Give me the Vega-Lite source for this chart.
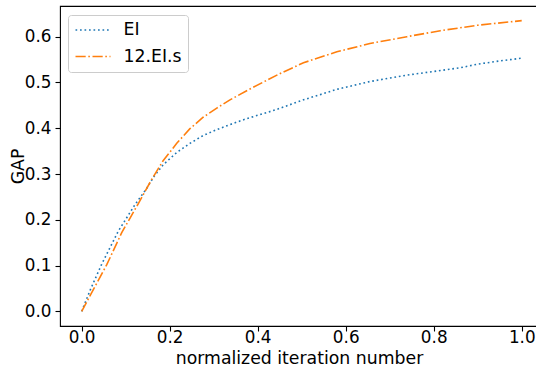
{
  "$schema": "https://vega.github.io/schema/vega-lite/v6.json",
  "width": 478,
  "height": 320,
  "autosize": {"type": "none"},
  "padding": {"left": 60, "top": 6, "right": -2, "bottom": 40},
  "config": {
    "view": {"stroke": "black", "strokeWidth": 1.1},
    "font": "DejaVu Sans",
    "axis": {
      "grid": false,
      "domain": false,
      "tickColor": "black",
      "tickWidth": 1.1,
      "tickSize": 5,
      "labelFontSize": 16.8,
      "titleFontSize": 17.3,
      "labelColor": "black",
      "titleColor": "black",
      "labelFont": "DejaVu Sans",
      "titleFont": "DejaVu Sans",
      "titleFontWeight": "normal"
    },
    "legend": {
      "orient": "none",
      "legendX": 8,
      "legendY": 9,
      "symbolType": "stroke",
      "symbolSize": 1225,
      "symbolStrokeWidth": 1.6,
      "clipHeight": 17,
      "labelFontSize": 17.3,
      "labelFont": "DejaVu Sans",
      "labelColor": "black",
      "labelOffset": 12,
      "padding": 6.5,
      "rowPadding": 8.5,
      "fillColor": "rgba(255,255,255,0.8)",
      "strokeColor": "#cccccc",
      "cornerRadius": 3,
      "zindex": 2
    }
  },
  "data": {
    "values": [
      {"method": "EI", "x": 0.0, "gap": 0.0},
      {"method": "EI", "x": 0.02, "gap": 0.048},
      {"method": "EI", "x": 0.045, "gap": 0.102},
      {"method": "EI", "x": 0.083, "gap": 0.175},
      {"method": "EI", "x": 0.121, "gap": 0.233},
      {"method": "EI", "x": 0.148, "gap": 0.269},
      {"method": "EI", "x": 0.163, "gap": 0.293},
      {"method": "EI", "x": 0.185, "gap": 0.32},
      {"method": "EI", "x": 0.216, "gap": 0.347},
      {"method": "EI", "x": 0.246, "gap": 0.367},
      {"method": "EI", "x": 0.276, "gap": 0.384},
      {"method": "EI", "x": 0.307, "gap": 0.397},
      {"method": "EI", "x": 0.337, "gap": 0.408},
      {"method": "EI", "x": 0.375, "gap": 0.421},
      {"method": "EI", "x": 0.413, "gap": 0.432},
      {"method": "EI", "x": 0.443, "gap": 0.441},
      {"method": "EI", "x": 0.504, "gap": 0.462},
      {"method": "EI", "x": 0.58, "gap": 0.485},
      {"method": "EI", "x": 0.655, "gap": 0.502},
      {"method": "EI", "x": 0.739, "gap": 0.516},
      {"method": "EI", "x": 0.815, "gap": 0.526},
      {"method": "EI", "x": 0.86, "gap": 0.532},
      {"method": "EI", "x": 0.9, "gap": 0.54},
      {"method": "EI", "x": 0.95, "gap": 0.547},
      {"method": "EI", "x": 1.0, "gap": 0.553},
      {"method": "12.EI.s", "x": 0.0, "gap": 0.0},
      {"method": "12.EI.s", "x": 0.02, "gap": 0.036},
      {"method": "12.EI.s", "x": 0.057, "gap": 0.102},
      {"method": "12.EI.s", "x": 0.091, "gap": 0.172},
      {"method": "12.EI.s", "x": 0.129, "gap": 0.236},
      {"method": "12.EI.s", "x": 0.159, "gap": 0.288},
      {"method": "12.EI.s", "x": 0.185, "gap": 0.329},
      {"method": "12.EI.s", "x": 0.216, "gap": 0.367},
      {"method": "12.EI.s", "x": 0.246, "gap": 0.399},
      {"method": "12.EI.s", "x": 0.276, "gap": 0.424},
      {"method": "12.EI.s", "x": 0.307, "gap": 0.444},
      {"method": "12.EI.s", "x": 0.337, "gap": 0.462},
      {"method": "12.EI.s", "x": 0.375, "gap": 0.482},
      {"method": "12.EI.s", "x": 0.413, "gap": 0.501},
      {"method": "12.EI.s", "x": 0.45, "gap": 0.519},
      {"method": "12.EI.s", "x": 0.504, "gap": 0.543},
      {"method": "12.EI.s", "x": 0.58, "gap": 0.567},
      {"method": "12.EI.s", "x": 0.655, "gap": 0.585},
      {"method": "12.EI.s", "x": 0.739, "gap": 0.6},
      {"method": "12.EI.s", "x": 0.815, "gap": 0.613},
      {"method": "12.EI.s", "x": 0.9, "gap": 0.625},
      {"method": "12.EI.s", "x": 1.0, "gap": 0.635}
    ]
  },
  "mark": {"type": "line", "strokeWidth": 1.6, "strokeCap": "butt"},
  "encoding": {
    "x": {
      "field": "x",
      "type": "quantitative",
      "scale": {"domain": [-0.0493, 1.037], "nice": false, "zero": false},
      "axis": {"values": [0, 0.2, 0.4, 0.6, 0.8, 1.0], "format": ".1f", "title": "normalized iteration number", "labelBaseline": "alphabetic", "labelPadding": 11.5, "titleBaseline": "alphabetic", "titleY": 37}
    },
    "y": {
      "field": "gap",
      "type": "quantitative",
      "scale": {"domain": [-0.032, 0.667], "nice": false, "zero": false},
      "axis": {"values": [0, 0.1, 0.2, 0.3, 0.4, 0.5, 0.6], "format": ".1f", "title": "GAP", "labelPadding": 4, "titleBaseline": "alphabetic", "titleX": -37}
    },
    "color": {
      "field": "method",
      "type": "nominal",
      "scale": {"domain": ["EI", "12.EI.s"], "range": ["#1f77b4", "#ff7f0e"]},
      "legend": {"title": null}
    },
    "strokeDash": {
      "field": "method",
      "type": "nominal",
      "scale": {"domain": ["EI", "12.EI.s"], "range": [[1.7, 2.8], [10.2, 2.6, 1.6, 2.6]]},
      "legend": {"title": null}
    }
  }
}
